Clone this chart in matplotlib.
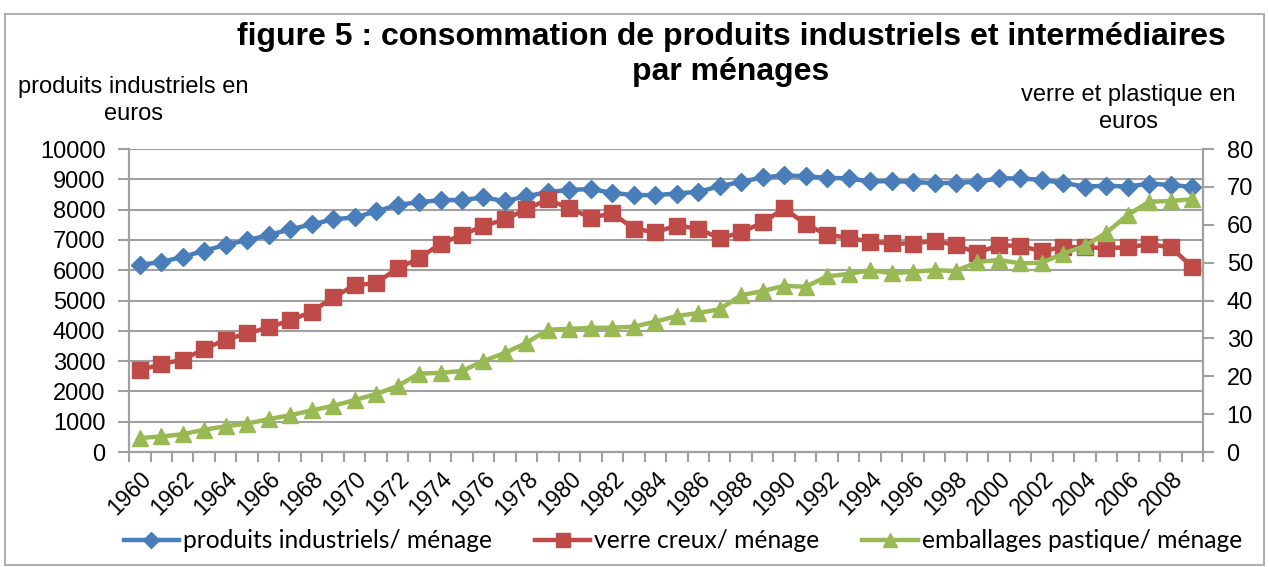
import matplotlib.pyplot as plt
from matplotlib.lines import Line2D
from matplotlib.patches import Rectangle

years = list(range(1960, 2010))

# left axis (euros)
produits = [6180, 6270, 6440, 6640, 6840, 6990, 7160, 7350, 7510, 7680,
            7740, 7940, 8150, 8250, 8310, 8320, 8400, 8280, 8440, 8580,
            8650, 8680, 8550, 8480, 8480, 8530, 8590, 8770, 8920, 9060,
            9130, 9100, 9050, 9030, 8930, 8940, 8920, 8870, 8890, 8920,
            9030, 9030, 8980, 8880, 8760, 8790, 8760, 8860, 8810, 8750]

# right axis (euros)
verre = [21.6, 23.2, 24.4, 27.2, 29.7, 31.3, 32.9, 34.8, 37.0, 40.8,
         44.0, 44.6, 48.5, 51.1, 55.0, 57.3, 59.7, 61.4, 64.1, 66.7,
         64.3, 61.9, 63.0, 59.0, 58.0, 59.8, 59.0, 56.4, 58.0, 60.6,
         64.3, 60.2, 57.3, 56.6, 55.5, 55.1, 55.0, 55.8, 54.6, 52.6,
         54.6, 54.4, 53.0, 54.2, 54.0, 53.9, 54.0, 54.9, 54.0, 48.9]

plastique = [3.7, 4.1, 4.7, 5.9, 6.8, 7.5, 8.7, 9.7, 11.0, 12.2,
             13.7, 15.3, 17.4, 20.7, 20.9, 21.4, 24.0, 26.2, 28.8, 32.3,
             32.5, 32.8, 32.8, 33.1, 34.4, 35.9, 36.7, 37.7, 41.4, 42.5,
             43.9, 43.6, 46.4, 47.0, 48.0, 47.2, 47.6, 48.0, 47.8, 50.2,
             50.7, 49.8, 50.0, 52.4, 54.4, 57.9, 62.6, 66.1, 66.3, 66.7]

blue = '#4A7EBB'
red = '#BE4B48'
green = '#98B954'
grid = '#A0A0A0'

fig = plt.figure(figsize=(12.69, 5.67), dpi=100)
fig.patches.append(Rectangle((0.004, 0.003), 0.992, 0.973, transform=fig.transFigure,
                             fill=False, edgecolor='#B0B0B0', linewidth=1.5))

ax = fig.add_axes([0.1017, 0.2028, 0.8463, 0.5344])
ax2 = ax.twinx()

x = list(range(len(years)))
ax.plot(x, produits, color=blue, lw=3.2, marker='D', ms=9.5, zorder=3)
ax2.plot(x, verre, color=red, lw=3.2, marker='s', ms=11.5, zorder=3)
ax2.plot(x, plastique, color=green, lw=3.2, marker='^', ms=12, zorder=3)

ax.set_ylim(0, 10000)
ax.set_yticks(range(0, 10001, 1000))
ax2.set_ylim(0, 80)
ax2.set_yticks(range(0, 81, 10))
ax.set_xlim(-0.5, len(years) - 0.5)
ax.set_xticks([i - 0.5 for i in range(len(years) + 1)], minor=True)
ax.set_xticks(x[::2])
ax.set_xticklabels([str(y) for y in years[::2]], rotation=45, ha='right',
                   rotation_mode='anchor', fontsize=16.5, family='Liberation Sans')
ax.tick_params(axis='x', which='major', length=0, pad=11)
ax.tick_params(axis='x', which='minor', length=7, width=1.5, color=grid, direction='out')
ax.tick_params(axis='y', length=8, width=1.5, color=grid, labelsize=17, pad=9)
ax2.tick_params(axis='y', length=8, width=1.5, color=grid, labelsize=17, pad=9)
for a in (ax, ax2):
    for lab in a.get_yticklabels():
        lab.set_family('Liberation Sans')
    a.spines['top'].set_visible(False)
    for s in ('left', 'right', 'bottom'):
        a.spines[s].set_color(grid)
        a.spines[s].set_linewidth(1.5)
ax.grid(axis='y', color=grid, lw=1.5)
ax.set_axisbelow(True)

# title in two pieces
fig.text(0.576, 0.935, 'figure 5 : consommation de produits industriels et intermédiaires',
         ha='center', va='center', fontsize=23, fontweight='bold', family='Liberation Sans')
fig.text(0.576, 0.873, 'par ménages',
         ha='center', va='center', fontsize=23, fontweight='bold', family='Liberation Sans')
fig.text(0.105, 0.822, 'produits industriels en\neuros', ha='center', va='center',
         fontsize=17, family='Liberation Sans', linespacing=1.3)
fig.text(0.889, 0.808, 'verre et plastique en\neuros', ha='center', va='center',
         fontsize=17, family='Liberation Sans', linespacing=1.3)

handles = [Line2D([], [], color=blue, lw=3.2, marker='D', ms=8),
           Line2D([], [], color=red, lw=3.2, marker='s', ms=10),
           Line2D([], [], color=green, lw=3.2, marker='^', ms=10)]
labels = ['produits industriels/ ménage', 'verre creux/ ménage', 'emballages pastique/ ménage']
fig.legend(handles, labels, loc='center', bbox_to_anchor=(0.538, 0.046), ncol=3, frameon=False,
           prop={'family': 'Lato', 'size': 17.7}, handlelength=2.25, handletextpad=0.16,
           columnspacing=1.75)

fig.savefig('out.png', dpi=100)
